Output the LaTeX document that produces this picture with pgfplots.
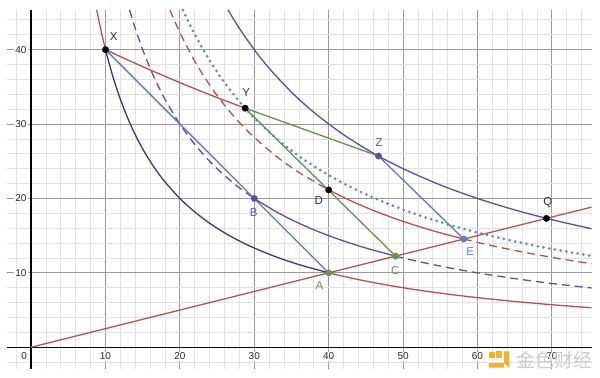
\documentclass[border=0pt]{standalone}
\usepackage{pgfplots}
\pgfplotsset{compat=1.18}
\usepackage{fontspec}
\setmainfont{Liberation Sans}
\newfontfamily\cjk{Noto Sans CJK SC}
\definecolor{cred}{HTML}{B5524F}
\definecolor{cblue}{HTML}{5B80B6}
\definecolor{cdot}{HTML}{6289C0}
\definecolor{cgreen}{HTML}{5E9651}
\definecolor{cpurp}{HTML}{5C4FA3}
\definecolor{cdark}{HTML}{433476}
\definecolor{cA}{HTML}{6C8F60}
\definecolor{majg}{HTML}{9A9A9A}
\definecolor{ming}{HTML}{E2E2E2}
\definecolor{wm}{HTML}{CDCDCD}
\definecolor{wmy}{HTML}{F0B323}
\begin{document}
\begin{tikzpicture}
\begin{axis}[
 scale only axis, width=585.7bp, height=360bp,
 xmin=-3.26, xmax=75.36, ymin=-2.99, ymax=45.33,
 axis line style={draw=none},
 xtick={0,10,...,70}, ytick={0,10,...,40},
 minor xtick={-2,2,4,6,8,12,14,16,18,22,24,26,28,32,34,36,38,42,44,46,48,52,54,56,58,62,64,66,68,72,74},
 minor ytick={-2,2,4,6,8,12,14,16,18,22,24,26,28,32,34,36,38,42,44},
 grid=both,
 major grid style={draw=majg, line width=0.9bp},
 minor grid style={draw=ming, line width=0.8bp},
 xticklabels={}, yticklabels={},
 major tick length=0pt, minor tick length=0pt,
 tick style={draw=none},
 clip=true,
]
% axes
\draw[black, line width=1.4bp] (-3.26,0) -- (75.36,0);
\draw[black, line width=1.4bp] (0,-2.99) -- (0,45.33);

% tick labels
\begin{scope}[every node/.style={fill=white, inner sep=1bp, font=\fontsize{10bp}{11bp}\selectfont, text=black!85}]
\node[anchor=east] at (-0.45,40) {40};
\node[anchor=east] at (-0.45,30) {30};
\node[anchor=east] at (-0.45,20) {20};
\node[anchor=east] at (-0.45,10) {10};
\node at (-0.94,-1.2) {0};
\node at (10,-1.2) {10};
\node at (20,-1.2) {20};
\node at (30,-1.2) {30};
\node at (40,-1.2) {40};
\node at (50,-1.2) {50};
\node at (60,-1.2) {60};
\node at (70,-1.2) {70};
\end{scope}

% red ray y = x/4
\addplot[cred, line width=1.3bp] coordinates {(0,0) (75.36,18.84)};

% xy=400 : red outside [10,40]
\addplot[cred, line width=1.3bp, smooth] coordinates {(8.82,45.35) (9,44.444) (9.5,42.105) (10,40)};
\addplot[cred, line width=1.3bp, smooth] coordinates {(40,10) (44,9.091) (48,8.333) (52,7.692) (56,7.143) (60,6.667) (65,6.154) (70,5.714) (75.36,5.308)};
% xy=400 : dark purple between X and A
\addplot[cdark, line width=1.3bp, smooth] coordinates {(10,40) (11,36.364) (12,33.333) (13,30.769) (14,28.571) (15,26.667) (16,25) (17,23.529) (18,22.222) (20,20) (22,18.182) (24,16.667) (26,15.385) (28,14.286) (30,13.333) (33,12.121) (36,11.111) (40,10)};

% xy=600 purple
\addplot[cpurp, line width=1.3bp, smooth, dash pattern=on 8bp off 5bp] coordinates {(13.24,45.32) (14,42.857) (15,40) (16,37.5) (17,35.294) (18,33.333) (20,30) (22,27.273) (24,25) (26,23.077) (28,21.429) (30,20)};
\addplot[cpurp, line width=1.3bp, smooth] coordinates {(30,20) (33,18.182) (36,16.667) (39,15.385) (42,14.286) (45,13.333) (48.99,12.247)};
\addplot[cpurp, line width=1.3bp, smooth, dash pattern=on 8bp off 5bp] coordinates {(48.99,12.247) (52,11.538) (56,10.714) (60,10) (65,9.231) (70,8.571) (75.36,7.962)};

% xy=1200 purple
\addplot[cpurp, line width=1.3bp, smooth] coordinates {(26.47,45.33) (28,42.857) (30,40) (32,37.5) (35,34.286) (38,31.579) (42,28.571) (46,26.087) (50,24) (55,21.818) (60,20) (65,18.462) (70,17.143) (75.36,15.924)};

% xy=846 red
\addplot[cred, line width=1.3bp, smooth, dash pattern=on 8bp off 5bp] coordinates {(18.66,45.33) (20,42.3) (22,38.455) (24,35.25) (26,32.538) (28,30.214) (30,28.2) (33,25.636) (36,23.5) (40,21.15)};
\addplot[cred, line width=1.3bp, smooth] coordinates {(40,21.15) (43,19.674) (46,18.391) (49,17.265) (52,16.269) (55,15.382) (58.17,14.544)};
\addplot[cred, line width=1.3bp, smooth, dash pattern=on 8bp off 5bp] coordinates {(58.17,14.544) (61,13.869) (64,13.219) (67,12.627) (70,12.086) (73,11.589) (75.36,11.226)};

% red curve X -> Y
\addplot[cred, line width=1.3bp, smooth] coordinates {(10,40) (13,38.61) (16,37.28) (19,35.99) (22,34.75) (25,33.56) (28.78,32.13)};

% blue dotted xy=925
\addplot[cdot, line width=3bp, line cap=round, dash pattern=on 0bp off 5.8bp, smooth] coordinates {(20.41,45.32) (22,42.045) (24,38.542) (26,35.577) (28,33.036) (30,30.833) (33,28.03) (36,25.694) (40,23.125) (44,21.023) (48,19.271) (52,17.788) (56,16.518) (60,15.417) (65,14.231) (70,13.214) (75.36,12.274)};

% straight segments
\addplot[cblue, line width=1.3bp] coordinates {(10,40) (30,20) (40,10)};
\addplot[cgreen, line width=1.3bp] coordinates {(28.78,32.13) (46.7,25.7)};
\addplot[cgreen, line width=1.3bp] coordinates {(28.78,32.13) (40,21.09) (48.99,12.25)};
\addplot[cblue, line width=1.3bp] coordinates {(46.7,25.7) (58.17,14.54)};

% points
\addplot[only marks, mark=*, mark size=3.2bp, black] coordinates {(10,40) (28.78,32.13) (40,21.15) (69.28,17.32)};
\addplot[only marks, mark=*, mark size=3.2bp, cpurp] coordinates {(46.7,25.7) (30,20)};
\addplot[only marks, mark=*, mark size=3.2bp, cblue] coordinates {(58.17,14.54)};
\addplot[only marks, mark=*, mark size=3.2bp, cA] coordinates {(40,10)};
\addplot[only marks, mark=*, mark size=3.2bp, cgreen] coordinates {(48.99,12.25)};

% point labels
\begin{scope}[every node/.style={font=\fontsize{11.5bp}{12bp}\selectfont, inner sep=0pt}]
\node[text=black!80] at (11.1,41.7) {X};
\node[text=black!80] at (28.9,34.2) {Y};
\node[text=cpurp] at (46.8,27.5) {Z};
\node[text=black!80] at (38.66,19.73) {D};
\node[text=cpurp] at (29.93,18.12) {B};
\node[text=black!80] at (69.45,19.38) {Q};
\node[text=cA] at (38.75,8.32) {A};
\node[text=cgreen] at (48.95,10.34) {C};
\node[text=cblue] at (59.02,12.8) {E};
\end{scope}

% watermark
\node[text=wm, font=\cjk\fontsize{19bp}{20bp}\selectfont, inner sep=0pt] at (70.3,-1.79) {金色财经};
\fill[wmy] (61.6,-1.4) rectangle (62.4,-0.6);
\fill[wmy] (63.6,-0.55) rectangle (64.3,-2.75) -- (61.5,-2.75) -- (61.5,-2.15) -- (63.6,-2.15) -- cycle;
\fill[wmy] (62.5,-0.55) rectangle (63.3,-1.4);
\end{axis}
\path[use as bounding box] ([shift={(-6bp,-8bp)}]current axis.south west) rectangle ([shift={(8.3bp,10bp)}]current axis.north east);
\end{tikzpicture}
\end{document}
